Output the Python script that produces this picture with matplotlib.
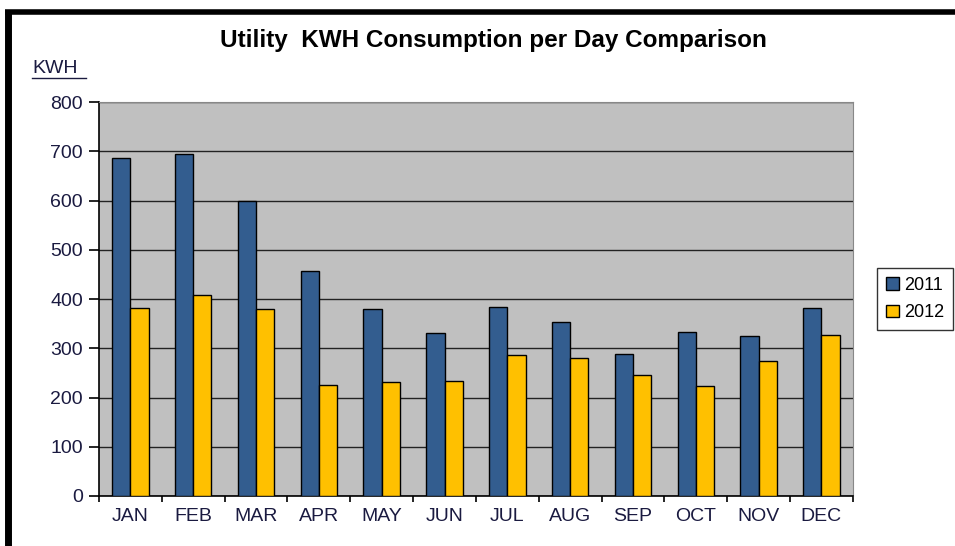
import numpy as np
import matplotlib.pyplot as plt

months = ['JAN', 'FEB', 'MAR', 'APR', 'MAY', 'JUN', 'JUL', 'AUG', 'SEP', 'OCT', 'NOV', 'DEC']
kwh_2011 = [686, 694, 599, 457, 380, 331, 384, 353, 288, 333, 325, 382]
kwh_2012 = [382, 408, 380, 225, 231, 234, 286, 280, 246, 223, 274, 327]

plt.rcParams['font.family'] = ['Liberation Sans', 'DejaVu Sans']

fig = plt.figure(figsize=(9.55, 5.46), dpi=100)
ax = fig.add_axes([0.1037, 0.0916, 0.7893, 0.7214])

x = np.arange(len(months))
w = 0.29
ax.bar(x - w/2, kwh_2011, w, color='#335D8F', edgecolor='black', linewidth=1, label='2011', zorder=3)
ax.bar(x + w/2, kwh_2012, w, color='#FFC000', edgecolor='black', linewidth=1, label='2012', zorder=3)

ax.set_facecolor('#C0C0C0')
ax.set_ylim(0, 800)
ax.set_xlim(-0.5, len(months) - 0.5)
ax.set_yticks(range(0, 801, 100))
ax.yaxis.grid(True, color='#222222', linewidth=1, zorder=1)
ax.set_axisbelow(True)

ax.set_xticks(x)
ax.set_xticklabels(months)
ax.set_xticks(np.arange(-0.5, len(months)), minor=True)
ax.tick_params(axis='x', which='major', length=0, pad=9, labelsize=14, labelcolor='#1a1a40')
ax.tick_params(axis='x', which='minor', length=4, direction='out', width=1.2)
ax.tick_params(axis='y', length=7, width=1.2, labelsize=14, labelcolor='#1a1a40', pad=4.5)

for s in ['top', 'right']:
    ax.spines[s].set_color('#888888')
for s in ['left', 'bottom']:
    ax.spines[s].set_color('black')
    ax.spines[s].set_linewidth(1.2)

fig.text(0.517, 0.925, 'Utility  KWH Consumption per Day Comparison', ha='center', va='center',
         fontsize=17.5, fontweight='bold')
fig.text(0.034, 0.874, 'KWH', ha='left', va='center', fontsize=14, color='#1a1a40')
fig.add_artist(plt.Line2D([0.034, 0.09], [0.857, 0.857], color='#1a1a40', linewidth=1))

leg = ax.legend(loc='center left', bbox_to_anchor=(1.02, 0.5), frameon=True, fancybox=False,
                edgecolor='black', fontsize=13, handlelength=0.7, handleheight=0.7,
                handletextpad=0.3, borderpad=0.5, labelspacing=0.6)
leg.get_frame().set_linewidth(1)

# outer black frame (left and top edges)
fig.add_artist(plt.Line2D([0.0083, 0.0083], [0, 0.978], color='black', linewidth=5, solid_capstyle='butt'))
fig.add_artist(plt.Line2D([0.0057, 1.0], [0.9775, 0.9775], color='black', linewidth=4, solid_capstyle='butt'))

plt.savefig('out.png', dpi=100)
